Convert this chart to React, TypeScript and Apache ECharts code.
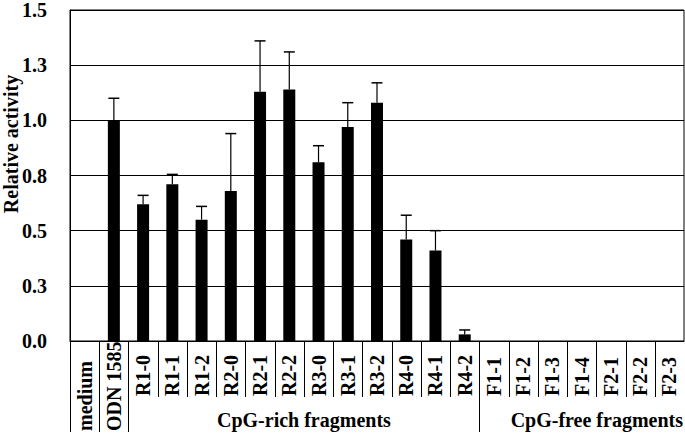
import React, { useEffect, useRef } from "react";
import * as echarts from "echarts";

const categories = [
  "medium", "ODN 1585", "R1-0", "R1-1", "R1-2", "R2-0", "R2-1", "R2-2",
  "R3-0", "R3-1", "R3-2", "R4-0", "R4-1", "R4-2",
  "F1-1", "F1-2", "F1-3", "F1-4", "F2-1", "F2-2", "F2-3",
];
const values = [
  0, 1.0, 0.62, 0.71, 0.55, 0.68, 1.13, 1.14, 0.81, 0.97, 1.08, 0.46, 0.41, 0.03,
  0, 0, 0, 0, 0, 0, 0,
];
const errors = [
  0, 0.1, 0.04, 0.045, 0.06, 0.26, 0.23, 0.17, 0.075, 0.11, 0.09, 0.11, 0.09, 0.02,
  0, 0, 0, 0, 0, 0, 0,
];
const yTickLabels = ["0.0", "0.3", "0.5", "0.8", "1.0", "1.3", "1.5"];
const longLabelCategories = ["medium", "ODN 1585"];
const longSeparatorBefore = ["medium", "ODN 1585", "R1-0", "F1-1"];
const groups = [
  { name: "CpG-rich fragments", from: "R1-0", to: "R4-2" },
  { name: "CpG-free fragments", from: "F1-1", to: "F2-3" },
];

const FONT = "'Liberation Serif', 'Times New Roman', serif";

export default function App() {
  const ref = useRef<HTMLDivElement>(null);
  useEffect(() => {
    if (!ref.current) return;
    const chart = echarts.init(ref.current, undefined, { renderer: "svg" });
    const shortLen = 56;
    const longLen = 91;
    const labelStyle = {
      fontFamily: FONT,
      fontWeight: "bold" as const,
      fontSize: 20,
      color: "#000",
    };
    chart.setOption({
      animation: false,
      grid: {
        left: 70,
        right: 1,
        top: 7,
        bottom: 96,
        show: true,
        borderColor: "#000",
        borderWidth: 1,
        backgroundColor: "transparent",
      },
      xAxis: [
        {
          type: "category",
          data: categories,
          axisLine: { show: true, lineStyle: { color: "#000", width: 1 } },
          axisTick: { show: false },
          axisLabel: {
            ...labelStyle,
            interval: 0,
            rotate: 90,
            align: "left",
            verticalAlign: "middle",
            margin: 55,
            formatter: (v: string) => (longLabelCategories.includes(v) ? "" : v),
          },
        },
        {
          type: "category",
          data: categories,
          position: "bottom",
          axisLine: { show: false },
          axisTick: { show: false },
          axisLabel: {
            ...labelStyle,
            interval: 0,
            rotate: 90,
            align: "left",
            verticalAlign: "middle",
            margin: 90,
            formatter: (v: string) => (longLabelCategories.includes(v) ? v : ""),
          },
        },
      ],
      yAxis: {
        type: "value",
        min: 0,
        max: 1.5,
        interval: 0.25,
        axisLine: { show: true, lineStyle: { color: "#000", width: 1 } },
        axisTick: { show: false },
        splitLine: { show: true, lineStyle: { color: "#000", width: 1 } },
        axisLabel: {
          ...labelStyle,
          margin: 23,
          formatter: (v: number) => yTickLabels[Math.round(v / 0.25)] ?? "",
        },
      },
      graphic: [
        {
          type: "text",
          x: 11,
          y: 144,
          rotation: Math.PI / 2,
          style: {
            text: "Relative activity",
            fontFamily: FONT,
            fontWeight: "bold",
            fontSize: 20,
            fill: "#000",
            align: "center",
            verticalAlign: "middle",
          },
        },
      ],
      series: [
        {
          type: "bar",
          data: values,
          barWidth: 12,
          itemStyle: { color: "#000" },
          z: 2,
        },
        {
          type: "custom",
          z: 3,
          data: values.map((v, i) => [i, v, errors[i]]),
          renderItem: (params: any, api: any) => {
            const i = api.value(0);
            const v = api.value(1);
            const e = api.value(2);
            if (!e) return { type: "group", children: [] };
            const p0 = api.coord([i, v]);
            const p1 = api.coord([i, v + e]);
            const half = 5.5;
            return {
              type: "group",
              children: [
                {
                  type: "line",
                  shape: { x1: p0[0], y1: p0[1], x2: p1[0], y2: p1[1] },
                  style: { stroke: "#000", lineWidth: 1.2 },
                },
                {
                  type: "line",
                  shape: { x1: p1[0] - half, y1: p1[1], x2: p1[0] + half, y2: p1[1] },
                  style: { stroke: "#000", lineWidth: 1.5 },
                },
              ],
            };
          },
        },
        {
          type: "custom",
          z: 3,
          clip: false,
          silent: true,
          data: categories.map((c, i) => [i, longSeparatorBefore.includes(c) ? 1 : 0]),
          renderItem: (params: any, api: any) => {
            const i = api.value(0);
            const isLong = api.value(1) === 1;
            const p = api.coord([i, 0]);
            const bw = api.size([1, 0])[0];
            const x = Math.round(p[0] - bw / 2) + 0.5;
            return {
              type: "line",
              shape: { x1: x, y1: p[1], x2: x, y2: p[1] + (isLong ? longLen : shortLen) },
              style: { stroke: "#000", lineWidth: 1 },
            };
          },
        },
        {
          type: "custom",
          z: 3,
          clip: false,
          silent: true,
          data: groups.map((g) => [
            categories.indexOf(g.from),
            categories.indexOf(g.to),
          ]),
          renderItem: (params: any, api: any) => {
            const a = api.value(0);
            const b = api.value(1);
            const g = groups[params.dataIndex];
            const pa = api.coord([a, 0]);
            const pb = api.coord([b, 0]);
            const bw = api.size([1, 0])[0];
            const left = pa[0] - bw / 2;
            const right = pb[0] + bw / 2;
            const isLast = b === categories.length - 1;
            return {
              type: "text",
              x: isLast ? right - 1 : (left + right) / 2,
              y: pa[1] + 79,
              style: {
                text: g.name,
                fontFamily: FONT,
                fontWeight: "bold",
                fontSize: 20,
                fill: "#000",
                align: isLast ? "right" : "center",
                verticalAlign: "middle",
              },
            };
          },
        },
      ],
    });
    return () => chart.dispose();
  }, []);
  return <div ref={ref} style={{ width: 685, height: 437, position: "absolute", left: 0, top: 0 }} />;
}
